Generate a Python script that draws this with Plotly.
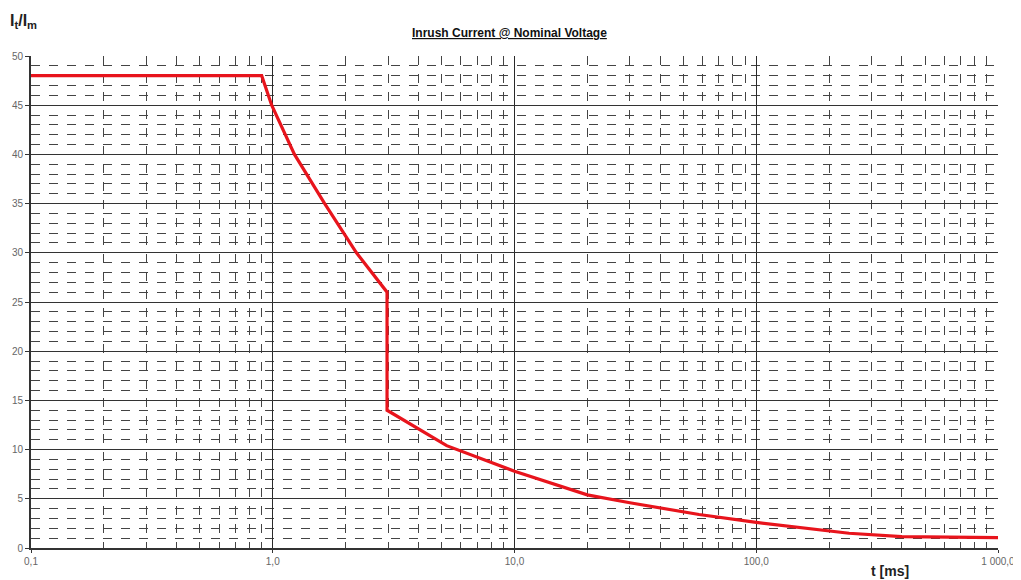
import plotly.graph_objects as go

# Data
t_ms = [0.1, 0.9, 0.99, 1.23, 1.64, 2.22, 2.97, 2.97, 5.24, 10.0, 20.0, 30.0, 58.0, 100.0, 242.0, 400.0, 1000.0]
ratio = [48.0, 48.0, 45.0, 40.0, 35.0, 30.0, 26.0, 14.0, 10.4, 7.8, 5.4, 4.6, 3.4, 2.6, 1.5, 1.15, 1.05]

x_tick_vals = [0.1, 1, 10, 100, 1000]
x_tick_text = ["0,1", "1,0", "10,0", "100,0", "1 000,0"]
y_tick_vals = [0, 5, 10, 15, 20, 25, 30, 35, 40, 45, 50]
x_minor_vals = [m * d for d in (0.1, 1, 10, 100) for m in range(2, 10)]

fig = go.Figure()
fig.add_trace(go.Scatter(x=t_ms, y=ratio, mode="lines",
                         line=dict(color="#e8141c", width=3.2), showlegend=False))

# the page body adds an 8px offset, so the figure is 8px smaller on each axis
fig.update_layout(
    width=1013, height=572,
    margin=dict(l=23, r=23, t=48, b=32, autoexpand=False),
    paper_bgcolor="white", plot_bgcolor="white",
    font=dict(family="Arial, Liberation Sans, sans-serif", color="#555555", size=10),
)
fig.update_xaxes(type="log", range=[-1, 3], automargin=False,
                 tickmode="array", tickvals=x_tick_vals, ticktext=x_tick_text,
                 showline=True, linecolor="#333333", linewidth=2,
                 showgrid=True, gridcolor="#2a2a2a", gridwidth=1.4,
                 ticks="outside", ticklen=3, tickcolor="#333333",
                 minor=dict(tickmode="array", tickvals=x_minor_vals, showgrid=True,
                            gridcolor="#444444", griddash="dash", gridwidth=1.2, ticks=""),
                 zeroline=False, tickfont=dict(size=10, color="#666666"))
fig.update_yaxes(range=[0, 50], automargin=False, tickvals=y_tick_vals,
                 showline=True, linecolor="#333333", linewidth=2,
                 showgrid=True, gridcolor="#333333", gridwidth=1.4,
                 ticks="outside", ticklen=4, tickcolor="#333333",
                 minor=dict(dtick=1, showgrid=True, gridcolor="#444444", griddash="dash", gridwidth=1.2),
                 zeroline=False, tickfont=dict(size=10, color="#666666"))

fig.add_annotation(text="<b><u>Inrush Current @ Nominal Voltage</u></b>", xref="paper", yref="paper",
                   x=0.495, y=1.047, xanchor="center", yanchor="middle", showarrow=False,
                   font=dict(size=12, color="#111111"))
fig.add_annotation(text="<b>I<sub>t</sub>/I<sub>m</sub></b>", xref="paper", yref="paper",
                   x=-0.024, y=1.07, xanchor="left", yanchor="middle", showarrow=False,
                   font=dict(size=16, color="#222222"))
fig.add_annotation(text="<b>t [ms]</b>", xref="paper", yref="paper",
                   x=0.888, y=-0.046, xanchor="center", yanchor="middle", showarrow=False,
                   font=dict(size=14, color="#222222"))

fig.write_html("out.html")
